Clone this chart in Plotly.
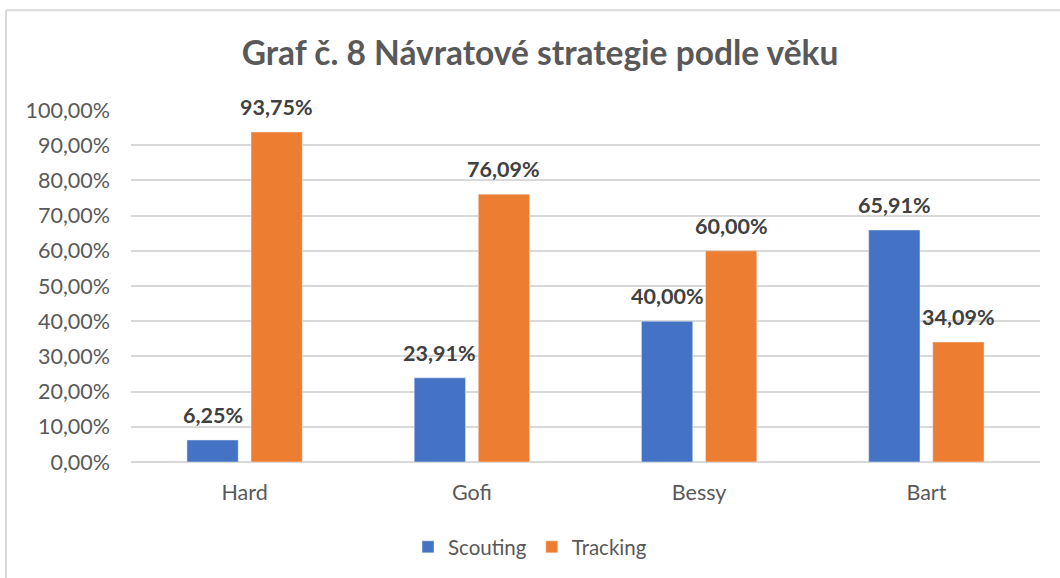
import plotly.graph_objects as go

categories = ["Hard", "Gofi", "Bessy", "Bart"]
scouting = [0.0625, 0.2391, 0.40, 0.6591]
tracking = [0.9375, 0.7609, 0.60, 0.3409]
y_ticks = [i / 10 for i in range(11)]
title_text = "Graf č. 8 Návratové strategie podle věku"

BLUE = "#4472C4"
ORANGE = "#ED7D31"
TXT = "#595959"
FONT = "Lato"

W, H = 1060, 578
L, R, T, B = 131, 20, 110, 115
pw, ph = W - L - R, H - T - B

def px_x(p):
    return (p - L) / pw

def px_y(p):
    return (H - B - p) / ph

fig = go.Figure()
fig.add_trace(go.Bar(name="Scouting", x=categories, y=scouting, marker_color=BLUE))
fig.add_trace(go.Bar(name="Tracking", x=categories, y=tracking, marker_color=ORANGE))

annotations = []
for vals, shift in ((scouting, -32), (tracking, 32)):
    for c, v in zip(categories, vals):
        annotations.append(dict(
            x=c, y=v, xref="x", yref="y", xshift=shift, yshift=10,
            text=f"{v*100:.2f}%".replace(".", ","), showarrow=False,
            yanchor="bottom", xanchor="center",
            font=dict(family=FONT, size=21.5, color="#404040", weight="bold"),
        ))

fig.update_layout(
    width=W, height=H,
    margin=dict(l=L, r=R, t=T, b=B),
    paper_bgcolor="white", plot_bgcolor="white",
    separators=", ",
    barmode="group", bargap=0.436, bargroupgap=0.2,
    title=dict(text=f"<b>{title_text}</b>", x=540 / W, xanchor="center",
               y=1 - 53 / H, yanchor="middle", yref="container",
               font=dict(family=FONT, size=33.5, color=TXT)),
    font=dict(family=FONT, color=TXT),
    xaxis=dict(showgrid=False, showline=False, ticks="", ticklabelstandoff=15,
               tickfont=dict(family=FONT, size=21.5, color=TXT)),
    yaxis=dict(range=[0, 1], tickvals=y_ticks, tickformat=".2%",
               showgrid=True, gridcolor="#D9D9D9", gridwidth=1.5,
               zeroline=True, zerolinecolor="#D9D9D9", zerolinewidth=1.5,
               showline=False, ticks="", ticklabelstandoff=20,
               tickfont=dict(family=FONT, size=21.5, color=TXT)),
    legend=dict(orientation="h", x=px_x(530), xanchor="center",
                y=px_y(547), yanchor="middle",
                font=dict(family=FONT, size=20.5, color=TXT),
                itemwidth=30, traceorder="normal"),
    annotations=annotations,
    shapes=[
        dict(type="line", xref="paper", yref="paper", x0=px_x(6), x1=px_x(1062),
             y0=px_y(10), y1=px_y(10), line=dict(color="#D9D9D9", width=2)),
        dict(type="line", xref="paper", yref="paper", x0=px_x(6), x1=px_x(6),
             y0=px_y(10), y1=px_y(580), line=dict(color="#D9D9D9", width=2)),
    ],
)

fig.write_html("out.html", config={"displayModeBar": False},
               post_script="document.body.style.margin='0';document.body.style.overflow='hidden';")
